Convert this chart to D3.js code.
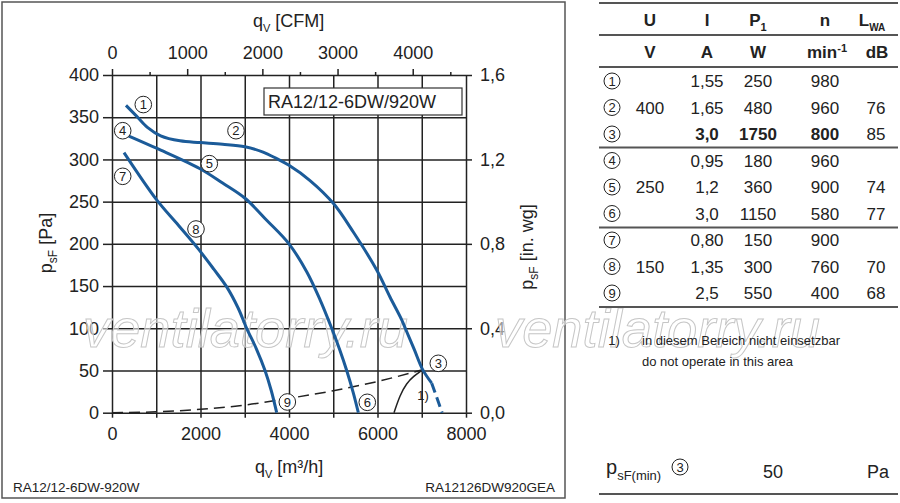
<!DOCTYPE html>
<html lang="de">
<head>
<meta charset="UTF-8">
<title>RA12/12-6DW/920W</title>
<style>
  body { margin: 0; background: #fff; }
  svg { display: block; font-family: "Liberation Sans", Arial, sans-serif; }
  .axis path { display: none; }
  .axis line { stroke: #222; stroke-width: 1.5; }
  .axis text { font-size: 18px; fill: #222; font-family: "Liberation Sans", Arial, sans-serif; }
  .grid path { display: none; }
  .grid line { stroke: #222; stroke-width: 1.5; }
</style>
</head>
<body>
<div id="chart"></div>
<script src="https://d3js.org/d3.v7.min.js"></script>
<script>
// axis values
const qvGrid = [0, 1000, 2000, 3000, 4000, 5000, 6000, 7000, 8000];
const qvLabels = [0, 2000, 4000, 6000, 8000];
const paTicks = [0, 50, 100, 150, 200, 250, 300, 350, 400];
const inwgTicks = [0, 100, 200, 300, 400];
const inwgLabels = ["0,0", "0,4", "0,8", "1,2", "1,6"];
const cfmMajor = [0, 1000, 2000, 3000, 4000];
const cfmMinor = [500, 1500, 2500, 3500, 4500];
const M3H_PER_CFM = 1.699;

// fan curves [qv m3/h, psF Pa]
const curve400 = [[316, 364], [560, 351], [800, 338], [1100, 328], [1537, 322], [1989, 320], [2500, 318], [3006, 315],
  [3400, 309], [3722, 301], [4000, 293], [4475, 275], [5001, 248], [5453, 214], [5982, 169],
  [6282, 137], [6547, 110], [6644, 98], [6830, 75], [7021, 51], [7225, 35]];
const curve400Beyond = [[7225, 35], [7340, 18], [7460, 0]];
const curve250 = [[369, 328], [1017, 313], [1989, 289], [2500, 272], [3006, 254], [3496, 228], [4000, 200],
  [4400, 167], [4700, 134], [4965, 100], [5150, 74], [5304, 50], [5450, 24], [5567, 0]];
const curve150 = [[271, 308], [1010, 252], [1500, 222], [1950, 194], [2300, 170], [2592, 149], [2850, 124],
  [3043, 100], [3260, 76], [3458, 50], [3600, 26], [3722, 0]];
const systemLine = [[0, 0], [1000, 1], [2000, 4], [3000, 9], [4000, 17], [5000, 26], [6000, 37], [7021, 51]];
const limitLine = [[6373, 0], [6508, 21], [6659, 35], [6810, 43], [7021, 51]];

// circled point numbers on the chart [label, qv, psF]
const markers = [["1", 707, 365], ["2", 2802, 334], ["3", 7374, 58.5], ["4", 242, 334], ["5", 2199, 295],
  ["6", 5769, 12.3], ["7", 242, 280], ["8", 1898, 217.6], ["9", 3962, 12.7]];

// table
const tableNo = ["1", "2", "3", "4", "5", "6", "7", "8", "9"];
const tableU = ["400", "250", "150"];
const tableI = ["1,55", "1,65", "3,0", "0,95", "1,2", "3,0", "0,80", "1,35", "2,5"];
const tableP1 = ["250", "480", "1750", "180", "360", "1150", "150", "300", "550"];
const tableN = ["980", "960", "800", "960", "900", "580", "900", "760", "400"];
const tableLwa = ["", "76", "85", "", "74", "77", "", "70", "68"];
const boldRows = [2];

const width = 900, height = 503;
const svg = d3.select("#chart").append("svg")
  .attr("width", width).attr("height", height)
  .style("background", "#fff");

const x = d3.scaleLinear().domain([0, 8000]).range([112, 466]);
const y = d3.scaleLinear().domain([0, 400]).range([412.7, 75]);
const xc = d3.scaleLinear().domain([0, 8000 / M3H_PER_CFM]).range([112, 466]);

// outer frame of the diagram
svg.append("rect").attr("x", 2).attr("y", 2).attr("width", 563).attr("height", 496)
  .attr("fill", "none").attr("stroke", "#555").attr("stroke-width", 1.5);

// rich text helper: parts = [text, "sub"|"sup"|null, size]
function rich(g, parts, base) {
  const t = g.append("text");
  let shift = 0;
  parts.forEach(([s, kind, size]) => {
    const want = kind === "sub" ? base * 0.3 : kind === "sup" ? -base * 0.38 : 0;
    t.append("tspan").attr("dy", want - shift).attr("font-size", size || base).text(s);
    shift = want;
  });
  return t;
}

// grid
svg.append("g").attr("class", "grid")
  .attr("transform", `translate(0,${y(0)})`)
  .call(d3.axisBottom(x).tickValues(qvGrid).tickSize(-(y(0) - y(400))).tickFormat(""));
svg.append("g").attr("class", "grid")
  .attr("transform", `translate(${x(0)},0)`)
  .call(d3.axisLeft(y).tickValues(paTicks).tickSize(-(x(8000) - x(0))).tickFormat(""));

// axes
svg.append("g").attr("class", "axis")
  .attr("transform", `translate(${x(0)},0)`)
  .call(d3.axisLeft(y).tickValues(paTicks).tickSize(9).tickPadding(4));
svg.append("g").attr("class", "axis")
  .attr("transform", `translate(0,${y(0)})`)
  .call(d3.axisBottom(x).tickValues(qvGrid).tickSize(5).tickPadding(10)
    .tickFormat(d => qvLabels.includes(d) ? d : ""));
svg.append("g").attr("class", "axis")
  .attr("transform", `translate(${x(8000)},0)`)
  .call(d3.axisRight(y).tickValues(inwgTicks).tickSize(6).tickPadding(8)
    .tickFormat((d, i) => inwgLabels[i]));
svg.append("g").attr("class", "axis")
  .attr("transform", `translate(0,${y(400)})`)
  .call(d3.axisTop(xc).tickValues(cfmMajor).tickSize(6).tickPadding(10).tickFormat(d3.format("d")));
svg.append("g").attr("class", "axis")
  .attr("transform", `translate(0,${y(400)})`)
  .call(d3.axisTop(xc).tickValues(cfmMinor).tickSize(3).tickFormat(""));

// axis titles
const ttl = svg.append("g").attr("fill", "#222");
rich(ttl, [["q"], ["V", "sub", 11], [" [CFM]"]], 18).attr("x", 253).attr("y", 27);
rich(ttl, [["q"], ["V", "sub", 11], [" [m³/h]"]], 18).attr("x", 255).attr("y", 473);
rich(ttl, [["p"], ["sF", "sub", 12], [" [Pa]"]], 18)
  .attr("text-anchor", "middle").attr("transform", "translate(52,243) rotate(-90)");
rich(ttl, [["p"], ["sF", "sub", 12], [" [in. wg]"]], 18)
  .attr("text-anchor", "middle").attr("transform", "translate(533,247) rotate(-90)");

// watermark
[83, 495].forEach(wx => {
  svg.append("text").attr("x", wx).attr("y", 347)
    .attr("font-size", 54).attr("font-style", "italic")
    .attr("textLength", 325).attr("lengthAdjust", "spacingAndGlyphs")
    .attr("fill", "#fff").attr("fill-opacity", 0.55)
    .attr("stroke", "#c6c6c6").attr("stroke-width", 1)
    .text("ventilatorry.ru");
});

// type box
svg.append("rect").attr("x", 264).attr("y", 88).attr("width", 198).attr("height", 27)
  .attr("fill", "#fff").attr("stroke", "#333").attr("stroke-width", 1.2);
svg.append("text").attr("x", 268).attr("y", 108).attr("font-size", 18).attr("fill", "#222")
  .text("RA12/12-6DW/920W");

// curves
const line = d3.line().x(d => x(d[0])).y(d => y(d[1]));
const blue = "#1b5b99";
svg.append("path").datum(systemLine).attr("d", line.curve(d3.curveMonotoneX))
  .attr("fill", "none").attr("stroke", "#222").attr("stroke-width", 1.5).attr("stroke-dasharray", "11,6");
svg.append("path").datum(limitLine).attr("d", line.curve(d3.curveBasis))
  .attr("fill", "none").attr("stroke", "#222").attr("stroke-width", 1.5);
line.curve(d3.curveCatmullRom.alpha(0.5));
[curve400, curve250, curve150].forEach(c => {
  svg.append("path").datum(c).attr("d", line)
    .attr("fill", "none").attr("stroke", blue).attr("stroke-width", 3);
});
svg.append("path").datum(curve400Beyond).attr("d", line)
  .attr("fill", "none").attr("stroke", blue).attr("stroke-width", 3).attr("stroke-dasharray", "10,5");

svg.append("text").attr("x", x(7028)).attr("y", y(21) + 5).attr("text-anchor", "middle")
  .attr("font-size", 13).attr("fill", "#222").text("1)");

// circled numbers
function circled(g, cx, cy, label, r) {
  g.append("circle").attr("cx", cx).attr("cy", cy).attr("r", r)
    .attr("fill", "#fff").attr("stroke", "#222").attr("stroke-width", 1);
  g.append("text").attr("x", cx).attr("y", cy + 4.6).attr("text-anchor", "middle")
    .attr("font-size", 13).attr("fill", "#222").text(label);
}
const mk = svg.append("g");
markers.forEach(([l, q, p]) => circled(mk, x(q), y(p), l, 8.3));

// footer texts of the diagram
svg.append("text").attr("x", 13).attr("y", 492).attr("font-size", 13.5).attr("fill", "#222")
  .text("RA12/12-6DW-920W");
svg.append("text").attr("x", 555).attr("y", 492).attr("text-anchor", "end").attr("font-size", 13.5)
  .attr("fill", "#222").text("RA12126DW920GEA");

// table
const tb = svg.append("g").attr("fill", "#222");
const tx0 = 599, tx1 = 898;
const col = { no: 612, u: 650, i: 707, p: 758, n: 825, l: 876 };
const rowY = d3.scaleLinear().domain([0, 8]).range([81, 293]);
const hline = yy => tb.append("line").attr("x1", tx0).attr("x2", tx1).attr("y1", yy).attr("y2", yy)
  .attr("stroke", "#555").attr("stroke-width", 2);
[3, 35, 67, 147.5, 227.5, 307].forEach(hline);

const head = tb.append("g").attr("font-weight", "bold").attr("text-anchor", "middle");
rich(head, [["U"]], 17).attr("x", col.u).attr("y", 26);
rich(head, [["I"]], 17).attr("x", col.i).attr("y", 26);
rich(head, [["P"], ["1", "sub", 11]], 17).attr("x", col.p).attr("y", 26);
rich(head, [["n"]], 17).attr("x", col.n).attr("y", 26);
rich(head, [["L"], ["WA", "sub", 10]], 17).attr("x", col.l - 4).attr("y", 26);
rich(head, [["V"]], 17).attr("x", col.u).attr("y", 58);
rich(head, [["A"]], 17).attr("x", col.i).attr("y", 58);
rich(head, [["W"]], 17).attr("x", col.p).attr("y", 58);
rich(head, [["min"], ["-1", "sup", 11]], 17).attr("x", col.n + 2).attr("y", 58);
rich(head, [["dB"]], 17).attr("x", col.l + 1).attr("y", 58);

tableNo.forEach((no, i) => {
  const yy = rowY(i);
  circled(tb, col.no, yy, no, 8);
  const w = boldRows.includes(i) ? "bold" : "normal";
  [[col.i, tableI[i]], [col.p, tableP1[i]], [col.n, tableN[i]]].forEach(([cx, v]) => {
    tb.append("text").attr("x", cx).attr("y", yy + 6).attr("text-anchor", "middle")
      .attr("font-size", 17).attr("font-weight", w).text(v);
  });
  tb.append("text").attr("x", col.l).attr("y", yy + 6).attr("text-anchor", "middle")
    .attr("font-size", 17).text(tableLwa[i]);
});
tableU.forEach((u, k) => {
  tb.append("text").attr("x", col.u).attr("y", rowY(k * 3 + 1) + 6).attr("text-anchor", "middle")
    .attr("font-size", 17).text(u);
});

// footnote
tb.append("text").attr("x", 614).attr("y", 345).attr("text-anchor", "middle").attr("font-size", 13).text("1)");
tb.append("text").attr("x", 642).attr("y", 345).attr("font-size", 13).text("in diesem Bereich nicht einsetzbar");
tb.append("text").attr("x", 642).attr("y", 366).attr("font-size", 13).text("do not operate in this area");

// minimum pressure row
rich(tb, [["p", null, 20], ["sF(min)", "sub", 13]], 20).attr("x", 606).attr("y", 474);
circled(tb, 680, 467, "3", 8);
tb.append("text").attr("x", 773).attr("y", 478).attr("text-anchor", "middle").attr("font-size", 18).text("50");
tb.append("text").attr("x", 878).attr("y", 478).attr("text-anchor", "middle").attr("font-size", 18).text("Pa");
hline(494);
</script>
</body>
</html>
